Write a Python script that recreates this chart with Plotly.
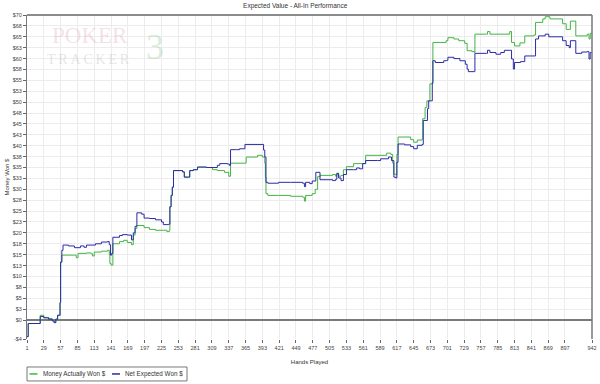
import plotly.graph_objects as go

# ---- data ----
net_hands = [1, 3, 23, 29, 37, 43, 46, 49, 52, 56, 57, 59, 61, 70, 80, 90, 96, 100, 115, 125, 135, 138, 140, 142,
             144, 155, 160, 168, 175, 178, 181, 184, 192, 196, 205, 215, 225, 228, 237, 239, 241, 243, 245, 260,
             263, 270, 272, 278, 285, 300, 318, 322, 335, 338, 340, 350, 355, 364, 395, 397, 399, 402, 420, 440,
             460, 463, 465, 472, 476, 482, 489, 510, 515, 517, 520, 524, 528, 533, 545, 550, 555, 560, 565, 585,
             590, 603, 608, 612, 615, 617, 619, 630, 640, 645, 651, 659, 661, 668, 670, 673, 676, 677, 681, 695,
             700, 702, 712, 722, 731, 734, 736, 746, 747, 766, 768, 772, 782, 790, 796, 805, 808, 811, 813, 823,
             830, 842, 848, 853, 864, 870, 887, 893, 899, 904, 906, 915, 925, 934, 937, 939, 942]
net_won = [-3.8, -0.8, 0.8, 0.5, 0.2, -0.2, -0.6, 0.2, 1.1, 4.0, 13.3, 16.0, 17.2, 17.0, 16.6, 17.0, 16.7, 17.2,
           17.5, 17.9, 18.0, 17.3, 14.9, 15.3, 19.0, 19.4, 19.6, 19.5, 18.4, 20.0, 21.5, 24.6, 24.3, 23.4, 23.3,
           23.0, 22.5, 21.9, 22.0, 26.0, 28.6, 30.5, 34.3, 34.0, 32.8, 32.8, 34.3, 34.5, 35.1, 35.0, 35.5, 35.9,
           35.8, 35.5, 39.1, 39.1, 39.3, 40.3, 39.0, 37.4, 31.6, 31.4, 31.6, 31.6, 31.4, 30.6, 31.6, 31.3, 31.9,
           33.9, 32.2, 32.0, 32.3, 33.6, 32.6, 32.0, 33.4, 34.5, 34.5, 34.9, 34.7, 35.9, 36.6, 36.6, 37.0, 37.4,
           36.6, 32.8, 32.6, 36.2, 40.4, 40.2, 39.8, 39.3, 40.1, 40.3, 45.8, 48.5, 50.3, 50.3, 54.5, 59.5, 59.1,
           59.5, 59.6, 60.3, 60.0, 59.5, 58.7, 57.6, 57.0, 57.0, 61.2, 61.2, 61.9, 61.4, 61.0, 61.4, 61.9, 61.9,
           59.9, 57.6, 59.1, 59.3, 60.6, 60.6, 64.5, 65.2, 65.6, 65.0, 65.0, 64.1, 63.0, 62.5, 64.1, 61.2, 61.5,
           61.6, 59.9, 61.4, 61.4]

money_hands = [1, 3, 23, 29, 37, 43, 46, 49, 52, 56, 57, 59, 80, 83, 86, 100, 108, 110, 113, 125, 135, 138, 139,
               141, 144, 155, 162, 168, 175, 178, 181, 184, 196, 205, 215, 228, 234, 238, 239, 241, 243, 245, 260,
               263, 270, 272, 278, 285, 300, 310, 318, 330, 337, 340, 364, 366, 385, 393, 397, 398, 399, 402, 420,
               440, 460, 463, 465, 476, 481, 485, 489, 510, 515, 517, 520, 524, 528, 533, 545, 560, 565, 600, 607,
               610, 612, 615, 617, 619, 640, 645, 651, 659, 660, 664, 667, 672, 677, 699, 702, 712, 720, 730, 734,
               742, 746, 747, 766, 768, 772, 805, 808, 813, 822, 830, 845, 848, 860, 864, 872, 887, 893, 899, 906,
               915, 934, 937, 939, 942]
money_won = [-3.8, -0.8, 1.1, 0.6, 0.3, -0.1, -0.5, 0.2, 1.1, 4.0, 13.3, 14.9, 14.9, 14.3, 15.3, 15.4, 15.2,
             14.7, 15.6, 15.8, 16.0, 15.0, 13.0, 12.6, 17.5, 18.0, 18.3, 17.8, 17.3, 19.5, 21.0, 21.7, 21.2, 20.8,
             20.6, 20.6, 20.3, 20.6, 26.0, 28.6, 30.5, 34.3, 34.0, 32.8, 32.8, 34.3, 34.5, 35.1, 35.0, 34.5, 34.3,
             33.9, 33.0, 36.0, 36.0, 37.4, 37.8, 37.4, 36.0, 32.8, 29.0, 28.6, 28.6, 28.4, 28.2, 27.3, 28.6, 29.0,
             30.0, 32.9, 33.2, 33.4, 33.0, 33.7, 33.0, 33.2, 34.5, 35.2, 35.9, 35.9, 37.8, 38.3, 38.0, 36.0, 33.5,
             33.3, 38.0, 42.0, 41.4, 40.8, 41.3, 41.6, 46.2, 48.8, 50.3, 54.2, 63.7, 64.1, 64.8, 64.5, 64.1, 63.5,
             61.8, 61.6, 61.4, 65.6, 65.6, 66.2, 65.6, 66.2, 63.7, 62.9, 63.6, 65.2, 65.4, 68.3, 69.1, 69.6, 69.1,
             69.1, 68.0, 66.7, 68.6, 65.2, 65.6, 64.5, 65.8, 65.8]

x_tick_vals = [1, 29, 57, 85, 113, 141, 169, 197, 225, 253, 281, 309, 337, 365, 393, 421, 449, 477, 505, 533,
               561, 589, 617, 645, 673, 701, 729, 757, 785, 813, 841, 869, 897, 942]
x_tick_text = [str(v) for v in x_tick_vals]
y_tick_vals = [70, 67.5, 65, 62.5, 60, 57.5, 55, 52.5, 50, 47.5, 45, 42.5, 40, 37.5, 35, 32.5, 30, 27.5, 25,
               22.5, 20, 17.5, 15, 12.5, 10, 7.5, 5, 2.5, 0, -4.35]
y_tick_text = ["$70", "$68", "$65", "$63", "$60", "$58", "$55", "$53", "$50", "$48", "$45", "$43", "$40", "$38",
               "$35", "$33", "$30", "$28", "$25", "$23", "$20", "$18", "$15", "$13", "$10", "$8", "$5", "$3",
               "$0", "-$4"]
series_names = ["Money Actually Won $", "Net Expected Won $"]

FONT = "Liberation Sans"
GREEN = "#44b444"
BLUE = "#2b2ba6"

fig = go.Figure()
fig.add_trace(go.Scatter(x=money_hands, y=money_won, mode="lines", name=series_names[0],
                         line=dict(color=GREEN, width=1, shape="hv"), showlegend=False))
fig.add_trace(go.Scatter(x=net_hands, y=net_won, mode="lines", name=series_names[1],
                         line=dict(color=BLUE, width=1, shape="hv"), showlegend=False))

# manual legend (box, line samples, labels) in paper coordinates
LEG_Y = -0.1079
shapes = [
    dict(type="line", xref="paper", yref="paper", x0=0, x1=1, y0=1, y1=1,
         line=dict(color="#666", width=1.5)),
    dict(type="line", xref="paper", yref="paper", x0=1, x1=1, y0=0, y1=1,
         line=dict(color="#777", width=1.5)),
    dict(type="rect", xref="paper", yref="paper", x0=0, x1=0.2832, y0=-0.0864, y1=-0.1295,
         line=dict(color="#777", width=1), fillcolor="white"),
    dict(type="line", xref="paper", yref="paper", x0=0.0044, x1=0.0186, y0=LEG_Y, y1=LEG_Y,
         line=dict(color=GREEN, width=1.5)),
    dict(type="line", xref="paper", yref="paper", x0=0.1504, x1=0.1646, y0=LEG_Y, y1=LEG_Y,
         line=dict(color=BLUE, width=1.5)),
]

annotations = [
    dict(text=series_names[0], xref="paper", yref="paper", x=0.0239, y=LEG_Y, xanchor="left",
         yanchor="middle", showarrow=False, font=dict(family=FONT, size=6.3, color="#333")),
    dict(text=series_names[1], xref="paper", yref="paper", x=0.1699, y=LEG_Y, xanchor="left",
         yanchor="middle", showarrow=False, font=dict(family=FONT, size=6.3, color="#333")),
    # faint watermark logo
    dict(text="POKER", xref="paper", yref="paper", x=0.111, y=0.936, xanchor="center", yanchor="middle",
         showarrow=False, font=dict(family="Liberation Serif", size=23, color="rgba(225,170,185,0.35)")),
    dict(text="T\u2009R\u2009A\u2009C\u2009K\u2009E\u2009R", xref="paper", yref="paper", x=0.108, y=0.862,
         xanchor="center", yanchor="middle", showarrow=False,
         font=dict(family="Liberation Serif", size=14, color="rgba(190,190,190,0.4)")),
    dict(text="3", xref="paper", yref="paper", x=0.226, y=0.900, xanchor="center", yanchor="middle",
         showarrow=False, font=dict(family="Liberation Serif", size=36, color="rgba(150,200,150,0.35)")),
]

fig.update_layout(
    width=600, height=384,
    margin=dict(l=27, r=8, t=15, b=45),
    paper_bgcolor="white", plot_bgcolor="white",
    font=dict(family=FONT, size=6, color="#444"),
    title=dict(text="Expected Value - All-In Performance", x=0.492, xanchor="center",
               y=0.986, yanchor="middle", font=dict(family=FONT, size=6.5, color="#333")),
    showlegend=False,
    xaxis=dict(range=[1, 942], tickvals=x_tick_vals, ticktext=x_tick_text, showgrid=True,
               gridcolor="#ececec", gridwidth=1, ticks="outside", ticklen=3, tickcolor="#666",
               tickfont=dict(size=5.5, color="#444"), showline=False, zeroline=False, automargin=False,
               title=dict(text="Hands Played", font=dict(size=6, color="#333"), standoff=10)),
    yaxis=dict(range=[-4.35, 70], tickvals=y_tick_vals, ticktext=y_tick_text, showgrid=True,
               gridcolor="#ececec", gridwidth=1, ticks="outside", ticklen=3, tickcolor="#666",
               tickfont=dict(size=5.5, color="#444"), showline=True, linecolor="#777", linewidth=1,
               zeroline=True, zerolinecolor="#7a7a7a", zerolinewidth=2, automargin=False,
               title=dict(text="Money Won $", font=dict(size=6, color="#333"), standoff=2)),
    shapes=shapes,
    annotations=annotations,
)

fig.write_html("out.html", config={"displayModeBar": False},
               post_script="document.body.style.margin='0';document.body.style.padding='0';")
